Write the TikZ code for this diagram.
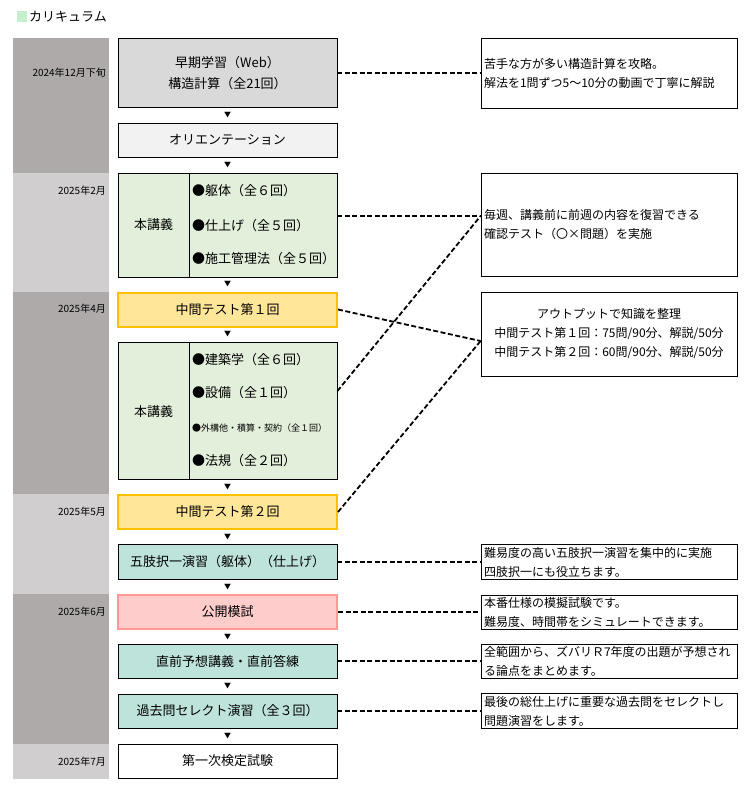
\documentclass[tikz,border=0pt]{standalone}
\usepackage{fontspec}
\setmainfont{Noto Sans CJK JP}
\usetikzlibrary{calc}

\definecolor{bandDark}{HTML}{AEAAAA}
\definecolor{bandLight}{HTML}{D0CECE}
\definecolor{webGray}{HTML}{D9D9D9}
\definecolor{orientGray}{HTML}{F2F2F2}
\definecolor{lectGreen}{HTML}{E2EFDA}
\definecolor{testYellow}{HTML}{FFE699}
\definecolor{testGold}{HTML}{FFC000}
\definecolor{drillTeal}{HTML}{BEE3DB}
\definecolor{mockPink}{HTML}{FFCCCC}
\definecolor{mockRed}{HTML}{FF9999}
\definecolor{titleGreen}{HTML}{C6EFCE}

\begin{document}
\begin{tikzpicture}[x=1pt,y=-1pt,
  stepbox/.style={draw,line width=0.8pt,minimum width=219pt,minimum height=34pt,
    inner sep=0pt,align=center,font=\fontsize{13}{21}\selectfont},
  testbox/.style={stepbox,fill=testYellow,draw=testGold,line width=2pt},
  drillbox/.style={stepbox,fill=drillTeal},
  notebox/.style={draw,line width=0.8pt,text width=250pt,inner xsep=3pt,inner ysep=0pt,
    align=left,font=\fontsize{12}{19}\selectfont},
  datelbl/.style={anchor=east,inner sep=0pt,font=\fontsize{10}{12}\selectfont},
  topic/.style={anchor=west,inner sep=0pt,font=\fontsize{13}{16}\selectfont},
  ptr/.style={inner sep=0pt,font=\fontsize{7}{7}\selectfont},
  link/.style={line width=1.8pt,dash pattern=on 5pt off 2.5pt}]

  \useasboundingbox (0,0) rectangle (753,792);

  \fill[titleGreen] (17,11) rectangle (27,22);
  \node[anchor=west,inner sep=0pt,font=\fontsize{13}{16}\selectfont] (title) at (29,16.5) {カリキュラム};

  % time bands
  \fill[bandDark] (13,38) rectangle (109,173);
  \fill[bandLight] (13,173) rectangle (109,292);
  \fill[bandDark] (13,292) rectangle (109,494);
  \fill[bandLight] (13,494) rectangle (109,594);
  \fill[bandDark] (13,594) rectangle (109,744);
  \fill[bandLight] (13,744) rectangle (109,779);

  \node[datelbl] (d1) at (106,73) {2024年12月下旬};
  \node[datelbl] (d2) at (106,191) {2025年2月};
  \node[datelbl] (d3) at (106,309) {2025年4月};
  \node[datelbl] (d4) at (106,512) {2025年5月};
  \node[datelbl] (d5) at (106,612) {2025年6月};
  \node[datelbl] (d6) at (106,762) {2025年7月};

  % course steps
  \node[stepbox,fill=webGray,minimum height=69pt] (b1) at (227.5,73) {早期学習（Web）\\構造計算（全21回）};
  \node[stepbox,fill=orientGray] (b2) at (227.5,140) {オリエンテーション};
  \node[stepbox,fill=lectGreen,minimum height=104pt] (b3) at (227.5,225) {};
  \draw[line width=0.8pt] ($(b3.north west)+(72,0)$) -- ($(b3.south west)+(72,0)$);
  \node[topic,anchor=center] (b3t) at ($(b3.west)+(36,0)$) {本講義};
  \node[topic] (b3a) at (192,191) {●躯体（全６回）};
  \node[topic] (b3b) at (192,225.5) {●仕上げ（全５回）};
  \node[topic] (b3c) at (192,259) {●施工管理法（全５回）};
  \node[testbox] (b4) at (227.5,309.5) {中間テスト第１回};
  \node[stepbox,fill=lectGreen,minimum height=137pt] (b5) at (227.5,410.5) {};
  \draw[line width=0.8pt] ($(b5.north west)+(72,0)$) -- ($(b5.south west)+(72,0)$);
  \node[topic,anchor=center] (b5t) at ($(b5.west)+(36,1.5)$) {本講義};
  \node[topic] (b5a) at (192,360) {●建築学（全６回）};
  \node[topic] (b5b) at (192,393) {●設備（全１回）};
  \node[topic,font=\fontsize{9}{11}\selectfont] (b5c) at (192,428) {●外構他・積算・契約（全１回）};
  \node[topic] (b5d) at (192,461) {●法規（全２回）};
  \node[testbox] (b6) at (227.5,512) {中間テスト第２回};
  \node[drillbox,minimum height=35pt] (b7) at (227.5,562) {五肢択一演習（躯体）（仕上げ）};
  \node[stepbox,fill=mockPink,draw=mockRed,line width=2pt] (b8) at (227.5,612) {公開模試};
  \node[drillbox] (b9) at (227.5,661) {直前予想講義・直前答練};
  \node[drillbox] (b10) at (227.5,711) {過去問セレクト演習（全３回）};
  \node[stepbox,fill=white] (b11) at (227.5,761) {第一次検定試験};

  \foreach \a/\b in {b1/b2,b2/b3,b3/b4,b4/b5,b5/b6,b6/b7,b7/b8,b8/b9,b9/b10,b10/b11}
    \node[ptr] at ($(\a.south)!0.5!(\b.north)$) {▼};

  % notes
  \node[notebox,minimum height=70pt] (n1) at (609,73) {苦手な方が多い構造計算を攻略。\\解法を1問ずつ5～10分の動画で丁寧に解説};
  \node[notebox,minimum height=103pt] (n2) at (609,224.5) {毎週、講義前に前週の内容を復習できる\\確認テスト（〇×問題）を実施};
  \node[notebox,minimum height=84pt,align=center] (n3) at (609,334) {アウトプットで知識を整理\\中間テスト第１回：75問/90分、解説/50分\\中間テスト第２回：60問/90分、解説/50分};
  \node[notebox,minimum height=35pt] (n4) at (609,562) {難易度の高い五肢択一演習を集中的に実施\\四肢択一にも役立ちます。};
  \node[notebox,minimum height=34pt] (n5) at (609,612) {本番仕様の模擬試験です。\\難易度、時間帯をシミュレートできます。};
  \node[notebox,minimum height=34pt] (n6) at (609,661) {全範囲から、ズバリＲ7年度の出題が予想され\\る論点をまとめます。};
  \node[notebox,minimum height=35pt] (n7) at (609,711) {最後の総仕上げに重要な過去問をセレクトし\\問題演習をします。};

  \coordinate (n2in) at ($(n2.west)+(0,-8.5)$);
  \coordinate (n3in) at ($(n3.west)+(0,7)$);
  \draw[link] (b1.east) -- (n1.west);
  \draw[link] ($(b3.east)+(0,-9)$) -- (n2in);
  \draw[link] (b4.east) -- (n3in);
  \draw[link] ($(b5.east)+(0,-19.5)$) -- (n2in);
  \draw[link] (b6.east) -- (n3in);
  \draw[link] (b7.east) -- (n4.west);
  \draw[link] (b8.east) -- (n5.west);
  \draw[link] (b9.east) -- (n6.west);
  \draw[link] (b10.east) -- (n7.west);
\end{tikzpicture}
\end{document}
